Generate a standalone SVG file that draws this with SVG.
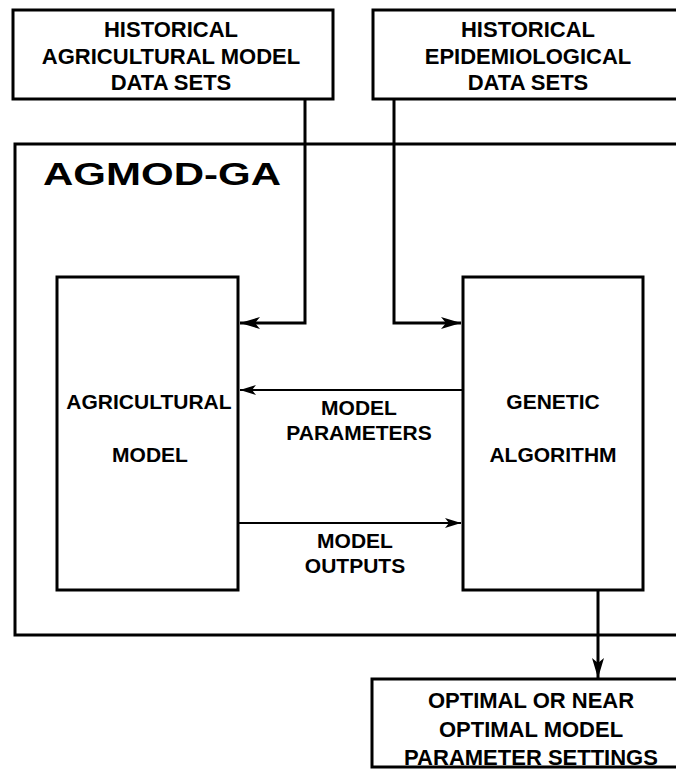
<svg xmlns="http://www.w3.org/2000/svg" width="676" height="769" viewBox="0 0 676 769">
<style>
.box{fill:#fff;stroke:#000;stroke-width:3}
.frame{fill:none;stroke:#000;stroke-width:3}
.t{font-family:"Liberation Sans",Arial,sans-serif;font-weight:bold;fill:#000;text-anchor:middle}
.t22{font-size:22px}
.t21{font-size:21px}
.thick{fill:none;stroke:#000;stroke-width:3}
.thin{fill:none;stroke:#000;stroke-width:2}
</style>
<defs>
<marker id="ab" markerUnits="userSpaceOnUse" viewBox="0 0 20 12" markerWidth="20" markerHeight="12" refX="20" refY="6" orient="auto">
<path d="M0,0 L20,6 L0,12 L5,6 Z" fill="#000"/>
</marker>
<marker id="as" markerUnits="userSpaceOnUse" viewBox="0 0 16 10" markerWidth="16" markerHeight="10" refX="16" refY="5" orient="auto">
<path d="M0,0 L16,5 L0,10 L4,5 Z" fill="#000"/>
</marker>
</defs>
<rect fill="#fff" x="0" y="0" width="676" height="769"/>
<g id="agmod-ga">
<rect class="frame" x="15" y="144" width="700" height="491"/>
<text class="t" x="43" y="185" font-size="31" style="text-anchor:start" textLength="238" lengthAdjust="spacingAndGlyphs">AGMOD-GA</text>
</g>
<g id="connectors">
<path class="thick" d="M305,99 V323 H240" marker-end="url(#ab)"/>
<path class="thick" d="M394,99 V323 H461" marker-end="url(#ab)"/>
<path class="thin" d="M462,390 H240" marker-end="url(#as)"/>
<path class="thin" d="M239,523 H461" marker-end="url(#as)"/>
<path class="thick" d="M598,591 V678" marker-end="url(#ab)"/>
</g>
<g id="hist-agri">
<rect class="box" x="13" y="10" width="320" height="89"/>
<text class="t t22" x="171" y="37">HISTORICAL</text>
<text class="t t22" x="171" y="64">AGRICULTURAL MODEL</text>
<text class="t t22" x="171" y="90">DATA SETS</text>
</g>
<g id="hist-epi">
<rect class="box" x="373" y="10" width="330" height="89"/>
<text class="t t22" x="528" y="37">HISTORICAL</text>
<text class="t t22" x="528" y="64">EPIDEMIOLOGICAL</text>
<text class="t t22" x="528" y="90">DATA SETS</text>
</g>
<g id="agri-model">
<rect class="box" x="57" y="277" width="181" height="313"/>
<text class="t t21" x="149" y="409">AGRICULTURAL</text>
<text class="t t21" x="150" y="462">MODEL</text>
</g>
<g id="genetic-algorithm">
<rect class="box" x="463" y="277" width="180" height="313"/>
<text class="t t21" x="553" y="409">GENETIC</text>
<text class="t t21" x="553" y="462">ALGORITHM</text>
</g>
<g id="labels">
<text class="t t21" x="359" y="415">MODEL</text>
<text class="t t21" x="359" y="440">PARAMETERS</text>
<text class="t t21" x="355" y="548">MODEL</text>
<text class="t t21" x="355" y="573">OUTPUTS</text>
</g>
<g id="optimal">
<rect class="box" x="372" y="679" width="340" height="88"/>
<text class="t t22" x="531" y="708">OPTIMAL OR NEAR</text>
<text class="t t22" x="531" y="737">OPTIMAL MODEL</text>
<text class="t t22" x="531" y="765">PARAMETER SETTINGS</text>
</g>
</svg>
